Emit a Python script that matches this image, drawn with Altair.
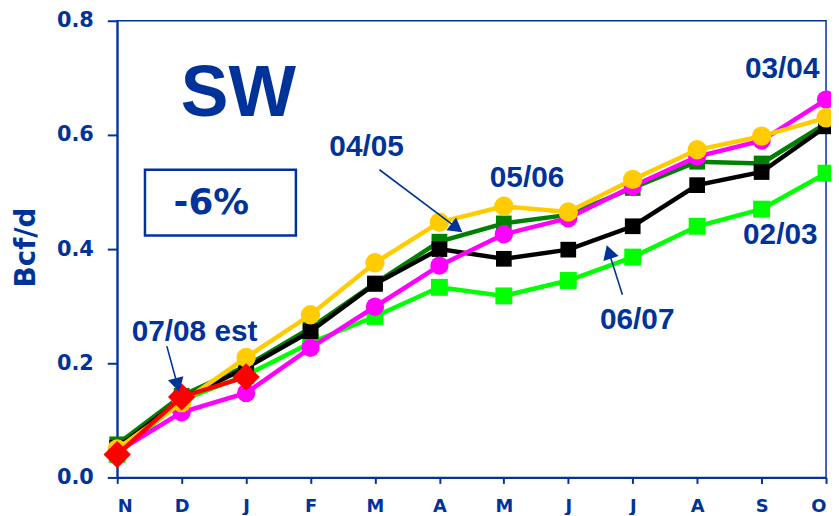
import altair as alt
import pandas as pd

months = ["N", "D", "J", "F", "M", "A", "M", "J", "J", "A", "S", "O"]
y_ticks = [0.0, 0.2, 0.4, 0.6, 0.8]

s0203 = [0.040, 0.135, 0.179, 0.236, 0.282, 0.333, 0.318, 0.345, 0.386, 0.440, 0.470, 0.533]
s0304 = [0.045, 0.114, 0.148, 0.227, 0.299, 0.371, 0.426, 0.454, 0.510, 0.562, 0.590, 0.662]
s0405 = [0.058, 0.143, 0.195, 0.262, 0.340, 0.413, 0.445, 0.460, 0.507, 0.553, 0.550, 0.620]
s0506 = [0.050, 0.131, 0.210, 0.285, 0.376, 0.447, 0.475, 0.465, 0.522, 0.574, 0.598, 0.630]
s0607 = [0.052, 0.137, 0.192, 0.256, 0.339, 0.400, 0.383, 0.399, 0.440, 0.512, 0.535, 0.615]
s0708 = [0.040, 0.141, 0.176]

BLUE = "#003399"

# series: (name, values, color, shape, size) in drawing order
series = [
    ("02/03", s0203, "#00ff00", "square", 290),
    ("04/05", s0405, "#008000", "square", 250),
    ("06/07", s0607, "#000000", "square", 250),
    ("03/04", s0304, "#ff00ff", "circle", 340),
    ("05/06", s0506, "#ffcc00", "circle", 380),
    ("07/08 est", s0708, "#ff0000", "diamond", 760),
]

x_scale = alt.Scale(domain=[0, 11], nice=False, zero=False)
y_scale = alt.Scale(domain=[0, 0.8], nice=False)

label_expr = "[" + ",".join("'%s'" % m for m in months) + "][datum.value]"

x_axis = alt.Axis(values=list(range(12)), labelExpr=label_expr, title=None,
                  grid=False, tickSize=6, labelPadding=14, labelFontSize=18,
                  labelFont="DejaVu Sans", labelFontWeight="bold", labelColor=BLUE,
                  domainColor=BLUE, domainWidth=2, tickColor=BLUE, tickWidth=2)
y_axis = alt.Axis(values=y_ticks, format=".1f", title="Bcf/d", grid=False,
                  tickSize=10, labelPadding=14, labelFontSize=21,
                  labelFont="DejaVu Sans", labelFontWeight="bold", labelColor=BLUE,
                  domainColor=BLUE, domainWidth=2, tickColor=BLUE, tickWidth=2,
                  titleFont="DejaVu Sans", titleFontSize=28, titleFontWeight="bold",
                  titleColor=BLUE, titleAngle=270, titleX=-91, titleY=228,
                  titleAlign="center", titleBaseline="middle")


def X(f):
    return alt.X(f, type="quantitative", scale=x_scale, axis=x_axis, title=None)


def Y(f):
    return alt.Y(f, type="quantitative", scale=y_scale, axis=y_axis, title="Bcf/d")


layers = []
for name, vals, color, shape, size in series:
    df = pd.DataFrame({"i": list(range(len(vals))), "v": vals, "s": name})
    line = alt.Chart(df).mark_line(color=color, strokeWidth=4.5).encode(x=X("i"), y=Y("v"))
    pts = alt.Chart(df).mark_point(shape=shape, size=size, filled=True, color=color,
                                   opacity=1).encode(x=X("i"), y=Y("v"))
    layers += [line, pts]

# annotation texts (data units)
ann_x = [3.87, 6.36, 10.32, 10.29, 8.07, 1.2]
ann_y = [0.579, 0.524, 0.716, 0.424, 0.275, 0.254]
ann_t = ["04/05", "05/06", "03/04", "02/03", "06/07", "07/08 est"]
ann = pd.DataFrame({"x": ann_x, "y": ann_y, "t": ann_t})
layers.append(alt.Chart(ann).mark_text(font="Liberation Sans", fontSize=30, fontWeight="bold",
                                       color=BLUE, align="center", baseline="middle").encode(
    x=X("x"), y=Y("y"), text="t:N"))

big = pd.DataFrame({"x": [1.88], "y": [0.671], "t": ["SW"]})
layers.append(alt.Chart(big).mark_text(font="Liberation Sans", fontSize=72, fontWeight="bold",
                                       color=BLUE, align="center", baseline="middle").encode(
    x=X("x"), y=Y("y"), text="t:N"))

pct = pd.DataFrame({"x": [1.46], "y": [0.481], "t": ["-6%"], "x1": [0.431], "x2": [2.773],
                    "y1": [0.539], "y2": [0.424]})
layers.append(alt.Chart(pct).mark_rect(fillOpacity=0, stroke=BLUE, strokeWidth=2.5).encode(
    x=X("x1"), x2="x2:Q", y=Y("y1"), y2="y2:Q"))
layers.append(alt.Chart(pct).mark_text(font="DejaVu Sans", fontSize=36, fontWeight="bold",
                                       color=BLUE, align="center", baseline="middle").encode(
    x=X("x"), y=Y("y"), text="t:N"))

# arrows
arrows = [
    # x start, y start, x head, y head, angle
    (4.07, 0.539, 5.27, 0.437, 127),
    (7.84, 0.320, 7.63, 0.395, 342),
    (0.77, 0.230, 0.935, 0.162, 165),
]
for xs, ys, xh, yh, ang in arrows:
    adf = pd.DataFrame({"xs": [xs], "ys": [ys], "xh": [xh], "yh": [yh]})
    layers.append(alt.Chart(adf).mark_rule(color=BLUE, strokeWidth=1.6).encode(
        x=X("xs"), y=Y("ys"), x2="xh:Q", y2="yh:Q"))
    layers.append(alt.Chart(adf).mark_point(shape="triangle-up", size=260, filled=True,
                                            color=BLUE, opacity=1, angle=ang).encode(
        x=X("xh"), y=Y("yh")))

chart = alt.layer(*layers).properties(
    width=714, height=460,
    autosize=alt.AutoSizeParams(type="none"),
    padding={"left": 110, "top": 11, "right": 5, "bottom": 36},
).configure_view(stroke=BLUE, strokeWidth=1.5)

chart.save("out.html", embed_options={"renderer": "svg", "actions": False})
